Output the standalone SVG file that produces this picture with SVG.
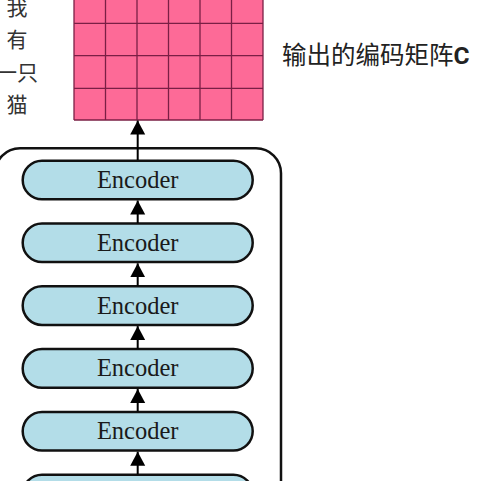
<svg xmlns="http://www.w3.org/2000/svg" width="481" height="481" viewBox="0 0 481 481">
<defs>
<style>
.cjk{font-family:"Noto Sans CJK SC","Noto Sans",sans-serif;}
.side{font-size:21px;fill:#333;text-anchor:middle;}
.enc rect{fill:#b3dde8;stroke:#111;stroke-width:2.5;}
.enc text{font-family:"Liberation Serif",serif;font-size:24.5px;fill:#1a1a1a;text-anchor:middle;}
.conn line{stroke:#000;stroke-width:2;}
.grid line{stroke:#7a1f45;stroke-width:1.3;}
</style>
<marker id="ah" markerUnits="userSpaceOnUse" markerWidth="15" markerHeight="16" refX="14" refY="7.5" orient="auto" viewBox="0 0 15 15">
<path d="M0,0 L14,7.5 L0,15 z" fill="#000"/>
</marker>
</defs>
<rect width="481" height="481" fill="#fff"/>

<g id="matrix">
<rect x="74" y="-9.2" width="189" height="129.2" fill="#fd6a97"/>
<g class="grid">
<line x1="74" y1="23.3" x2="263" y2="23.3"/>
<line x1="74" y1="55.7" x2="263" y2="55.7"/>
<line x1="74" y1="88.3" x2="263" y2="88.3"/>
<line x1="74" y1="120" x2="263" y2="120"/>
<line x1="74" y1="-10" x2="74" y2="120"/>
<line x1="105.5" y1="-10" x2="105.5" y2="120"/>
<line x1="137" y1="-10" x2="137" y2="120"/>
<line x1="168.5" y1="-10" x2="168.5" y2="120"/>
<line x1="200" y1="-10" x2="200" y2="120"/>
<line x1="231.5" y1="-10" x2="231.5" y2="120"/>
<line x1="263" y1="-10" x2="263" y2="120"/>
</g>
</g>

<g id="tokens" class="cjk side">
<text x="17" y="14.5">我</text>
<text x="17" y="47">有</text>
<text x="17" y="79.5">一只</text>
<text x="17" y="112">猫</text>
</g>

<g id="label">
<text class="cjk" x="282" y="64" font-size="24.5" fill="#222">输出的编码矩阵<tspan font-family="Roboto,'Liberation Sans',sans-serif" font-weight="bold">C</tspan></text>
</g>

<g id="stack">
<rect x="-5" y="148.3" width="286" height="380" rx="25" ry="25" fill="none" stroke="#111" stroke-width="2.5"/>
</g>

<g id="encoder1" class="enc"><rect x="22.7" y="160.7" width="230" height="38.6" rx="19.3"/><text x="137.7" y="188">Encoder</text></g>
<g id="encoder2" class="enc"><rect x="22.7" y="223.5" width="230" height="38.6" rx="19.3"/><text x="137.7" y="250.8">Encoder</text></g>
<g id="encoder3" class="enc"><rect x="22.7" y="286.3" width="230" height="38.6" rx="19.3"/><text x="137.7" y="313.6">Encoder</text></g>
<g id="encoder4" class="enc"><rect x="22.7" y="349.1" width="230" height="38.6" rx="19.3"/><text x="137.7" y="376.4">Encoder</text></g>
<g id="encoder5" class="enc"><rect x="22.7" y="411.9" width="230" height="38.6" rx="19.3"/><text x="137.7" y="439.2">Encoder</text></g>
<g id="encoder6" class="enc"><rect x="22.7" y="474.7" width="230" height="38.6" rx="19.3"/><text x="137.7" y="502">Encoder</text></g>

<g id="connectors" class="conn">
<line x1="137.7" y1="160" x2="137.7" y2="120.5" marker-end="url(#ah)"/>
<line x1="137.7" y1="223" x2="137.7" y2="200.5" marker-end="url(#ah)"/>
<line x1="137.7" y1="285.8" x2="137.7" y2="263.3" marker-end="url(#ah)"/>
<line x1="137.7" y1="348.6" x2="137.7" y2="326.1" marker-end="url(#ah)"/>
<line x1="137.7" y1="411.4" x2="137.7" y2="388.9" marker-end="url(#ah)"/>
<line x1="137.7" y1="474.2" x2="137.7" y2="451.7" marker-end="url(#ah)"/>
</g>
</svg>
